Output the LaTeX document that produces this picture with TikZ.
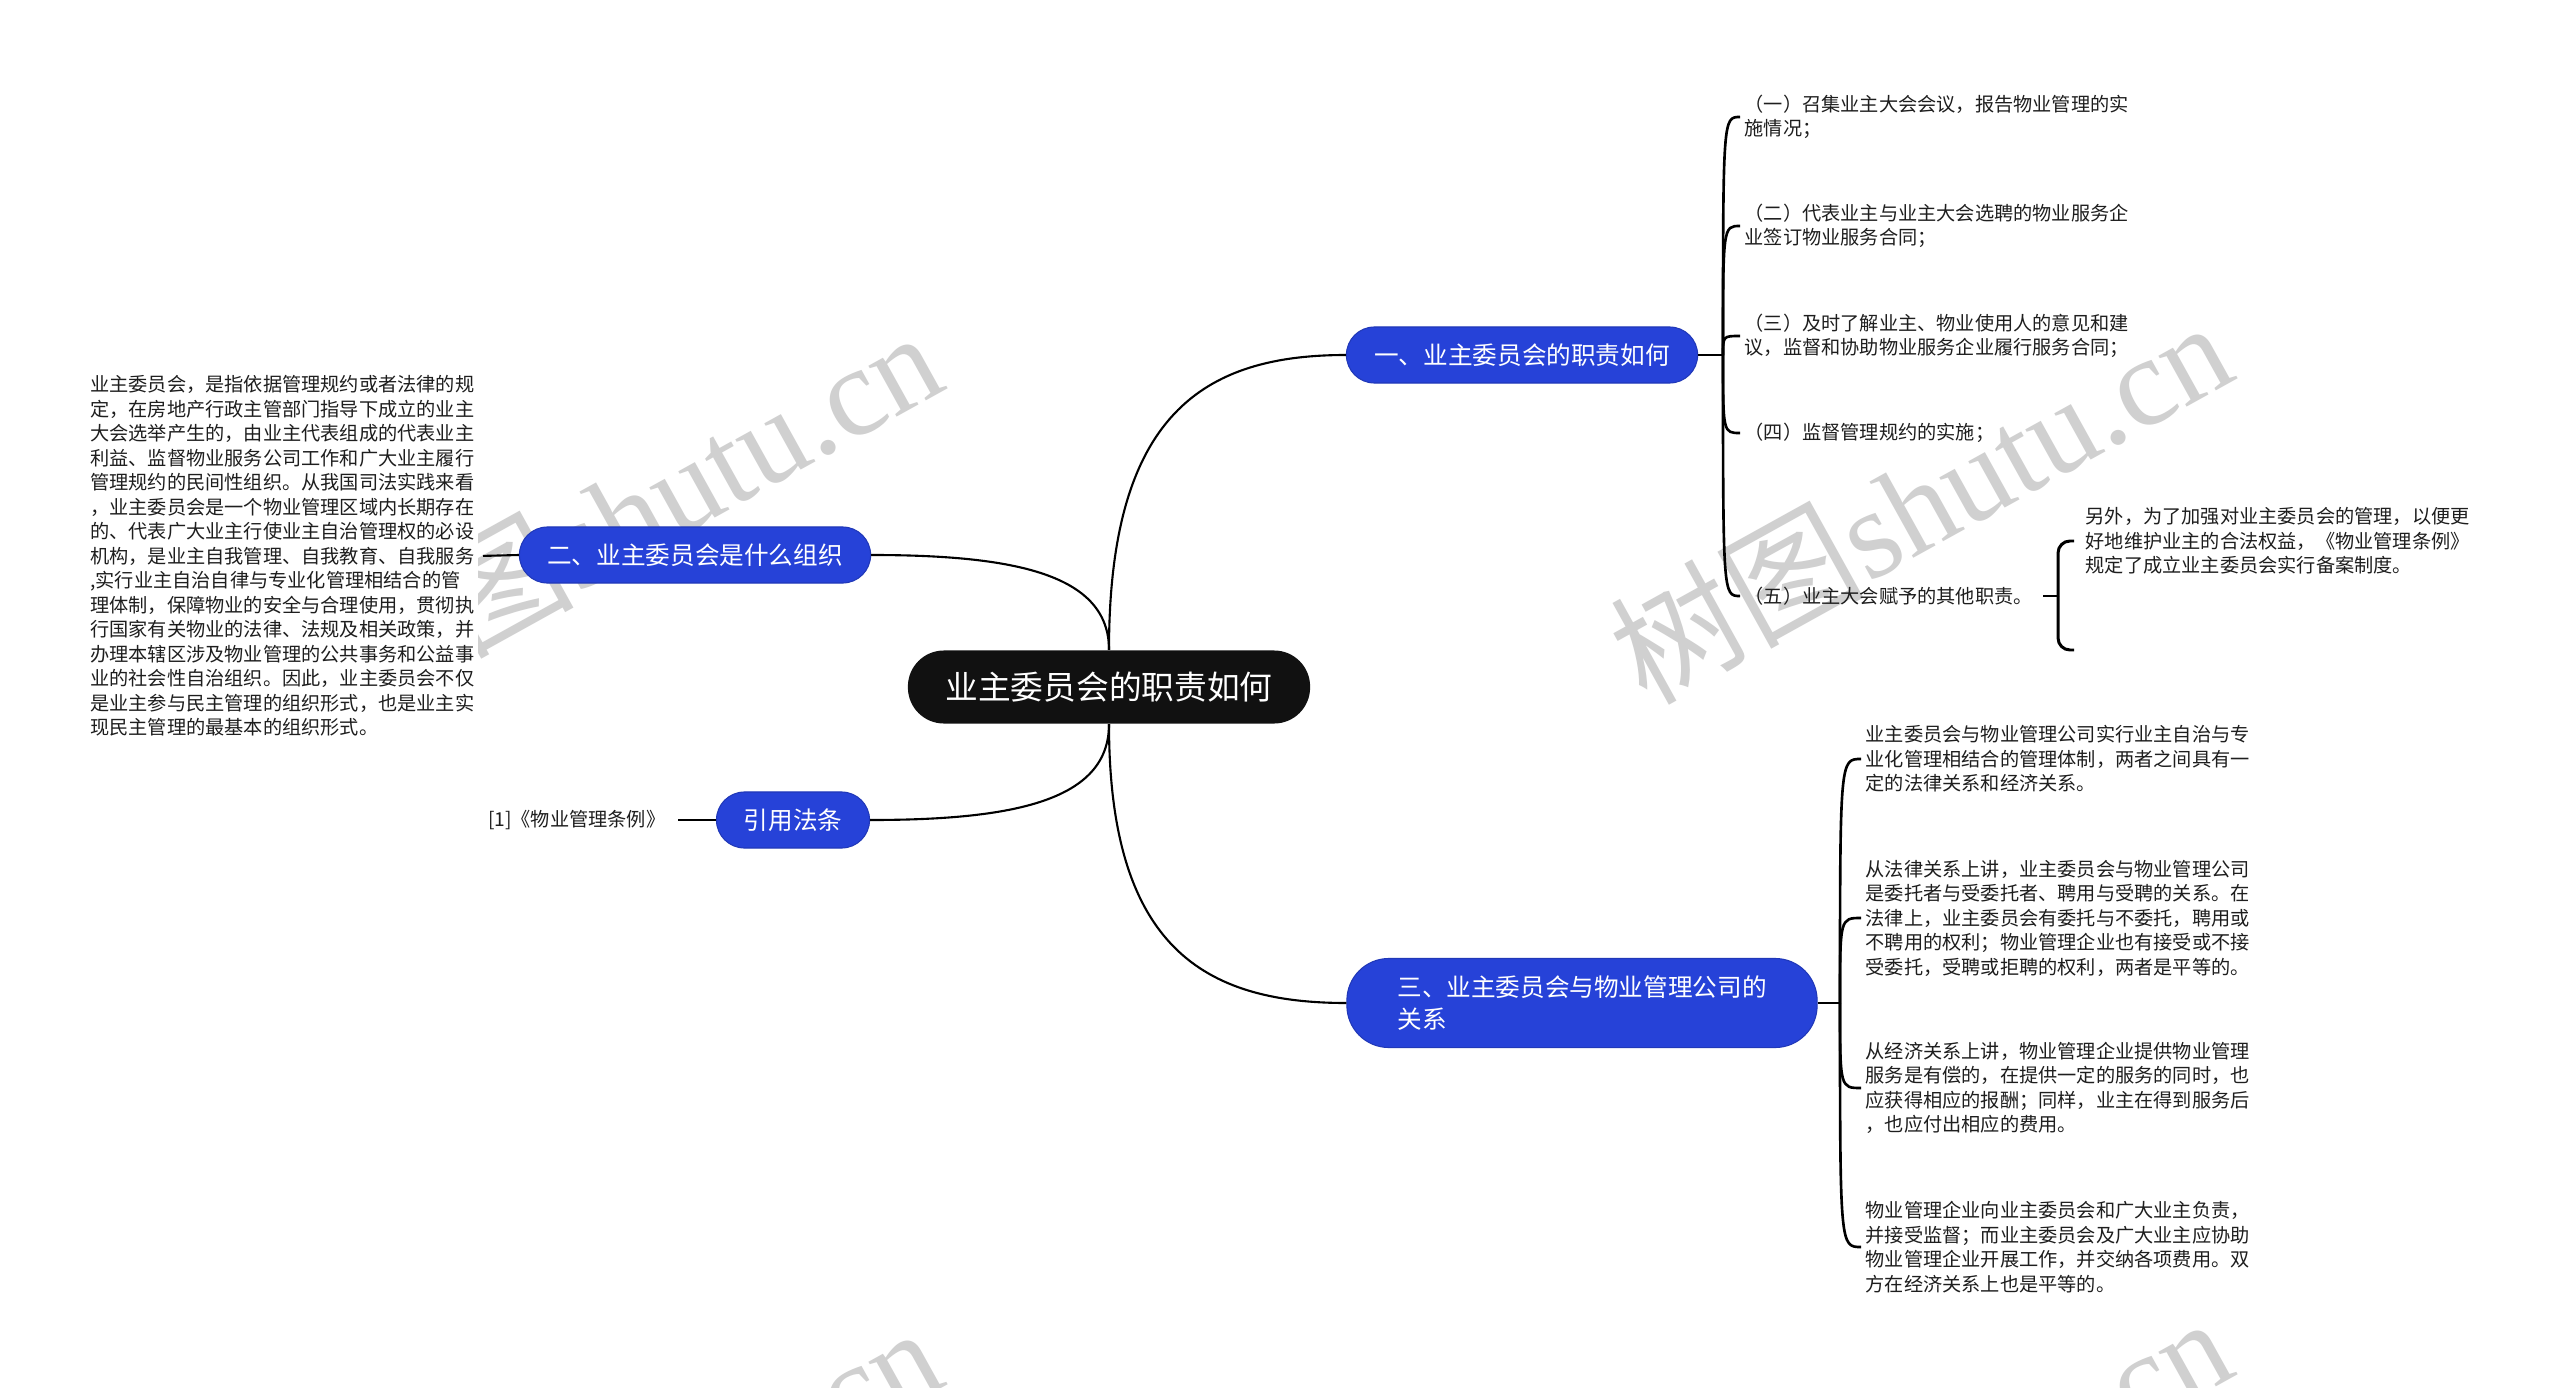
\documentclass[tikz,border=0pt]{standalone}
\usepackage{fontspec}
\setmainfont{Noto Sans CJK SC}
\newfontfamily\wmlat{Liberation Serif}
\usetikzlibrary{calc}
\definecolor{nodeblue}{RGB}{38,66,216}
\definecolor{rootblack}{RGB}{17,17,17}
\definecolor{wmgray}{RGB}{208,208,208}
\definecolor{leaftext}{RGB}{30,30,30}
\begin{document}
\begin{tikzpicture}[x=0.01cm,y=-0.01cm,
  rootbox/.style={fill=rootblack, text=white, rounded corners=0.36cm, minimum width=4.02cm, minimum height=0.73cm, font=\fontsize{9.3}{11}\selectfont, inner sep=0},
  topicbox/.style={fill=nodeblue, draw=nodeblue!85!black, line width=0.3pt, text=white, rounded corners=0.28cm, minimum height=0.56cm, font=\fontsize{7}{9.3}\selectfont, inner sep=0},
  leaf/.style={anchor=west, align=left, inner xsep=0.04cm, inner ysep=0, text=leaftext, font=\fontsize{5.46}{6.97}\selectfont},
  link/.style={line width=0.6pt, draw=black},
  brace/.style={line width=0.75pt, draw=black},
  wm/.style={text=wmgray, rotate=29, font=\fontsize{36}{36}\selectfont, inner sep=0}
]
\useasboundingbox (0,0) rectangle (2560,1388);
\fill[white] (0,0) rectangle (2560,1388);

% watermarks
\begin{scope}
\clip (0,0) rectangle (2560,1388);
\node[wm] (wm1) at (1920,500) {树图\wmlat shutu.cn};
\node[wm] (wm2) at (630,510) {树图\wmlat shutu.cn};
\node[wm] (wm3) at (630,1506) {树图\wmlat shutu.cn};
\node[wm] (wm4) at (1920,1496) {树图\wmlat shutu.cn};
\end{scope}

% main nodes
\node[rootbox] (root) at (1109,687) {业主委员会的职责如何};
\node[topicbox, minimum width=3.51cm] (n1) at (1522,355) {一、业主委员会的职责如何};
\node[topicbox, minimum width=3.51cm] (n2) at (695,555) {二、业主委员会是什么组织};
\node[topicbox, minimum width=1.53cm] (n3) at (793,820) {引用法条};
\node[topicbox, minimum width=4.70cm, minimum height=0.89cm, rounded corners=0.42cm, align=left] (n4) at (1582,1003) {三、业主委员会与物业管理公司的\\关系};

% leaves of n1
\node[leaf] (c11) at (1740,117) {（一）召集业主大会会议，报告物业管理的实\\施情况；};
\node[leaf] (c12) at (1740,226) {（二）代表业主与业主大会选聘的物业服务企\\业签订物业服务合同；};
\node[leaf] (c13) at (1740,336) {（三）及时了解业主、物业使用人的意见和建\\议，监督和协助物业服务企业履行服务合同；};
\node[leaf] (c14) at (1740,433) {（四）监督管理规约的实施；};
\node[leaf] (c15) at (1740,596) {（五）业主大会赋予的其他职责。};
\node[leaf] (c151) at (2081,541) {另外，为了加强对业主委员会的管理，以便更\\好地维护业主的合法权益，《物业管理条例》\\规定了成立业主委员会实行备案制度。};

% leaf of n2
\node[leaf, anchor=east, fill=white, inner ysep=0.05cm] (c21) at (479,556) {业主委员会，是指依据管理规约或者法律的规\\
定，在房地产行政主管部门指导下成立的业主\\
大会选举产生的，由业主代表组成的代表业主\\
利益、监督物业服务公司工作和广大业主履行\\
管理规约的民间性组织。从我国司法实践来看\\
，业主委员会是一个物业管理区域内长期存在\\
的、代表广大业主行使业主自治管理权的必设\\
机构，是业主自我管理、自我教育、自我服务\\
,实行业主自治自律与专业化管理相结合的管\\
理体制，保障物业的安全与合理使用，贯彻执\\
行国家有关物业的法律、法规及相关政策，并\\
办理本辖区涉及物业管理的公共事务和公益事\\
业的社会性自治组织。因此，业主委员会不仅\\
是业主参与民主管理的组织形式，也是业主实\\
现民主管理的最基本的组织形式。};

% leaf of n3
\node[leaf, anchor=east] (c31) at (670,820) {[1]《物业管理条例》};

% leaves of n4
\node[leaf] (c41) at (1861,759) {业主委员会与物业管理公司实行业主自治与专\\业化管理相结合的管理体制，两者之间具有一\\定的法律关系和经济关系。};
\node[leaf] (c42) at (1861,918) {从法律关系上讲，业主委员会与物业管理公司\\是委托者与受委托者、聘用与受聘的关系。在\\法律上，业主委员会有委托与不委托，聘用或\\不聘用的权利；物业管理企业也有接受或不接\\受委托，受聘或拒聘的权利，两者是平等的。};
\node[leaf] (c43) at (1861,1088) {从经济关系上讲，物业管理企业提供物业管理\\服务是有偿的，在提供一定的服务的同时，也\\应获得相应的报酬；同样，业主在得到服务后\\，也应付出相应的费用。};
\node[leaf] (c44) at (1861,1247) {物业管理企业向业主委员会和广大业主负责，\\并接受监督；而业主委员会及广大业主应协助\\物业管理企业开展工作，并交纳各项费用。双\\方在经济关系上也是平等的。};

% root connectors
\draw[link] (root.north) .. controls ($(root.north)!0.8!(root.north |- n1.west)$) and ($(n1.west)!0.6!(n1.west -| root.north)$) .. (n1.west);
\draw[link] (root.north) .. controls ($(root.north)!0.8!(root.north |- n2.east)$) and ($(n2.east)!0.6!(n2.east -| root.north)$) .. (n2.east);
\draw[link] (root.south) .. controls ($(root.south)!0.8!(root.south |- n3.east)$) and ($(n3.east)!0.6!(n3.east -| root.south)$) .. (n3.east);
\draw[link] (root.south) .. controls ($(root.south)!0.8!(root.south |- n4.west)$) and ($(n4.west)!0.6!(n4.west -| root.south)$) .. (n4.west);

% n1 bracket
\coordinate (j1) at (1723,355);
\draw[brace] (n1.east) -- (j1);
\foreach \c in {c11,c12,c13,c14,c15}{
  \draw[brace] (j1) .. controls (j1 |- \c.west) and (j1 |- \c.west) .. (\c.west);
}

% c15 bracket
\coordinate (j15) at (2058,596);
\coordinate (b15) at (2074,650);
\draw[brace, line width=0.85pt, shorten <=0.06cm] (c15.east) -- (j15);
\draw[brace, line width=0.85pt, rounded corners=0.12cm, shorten >=0.07cm] (j15) |- (c151.west);
\draw[brace, line width=0.85pt, rounded corners=0.12cm] (j15) |- (b15);

% n2, n3 links
\draw[link, shorten >=0.04cm] (n2.west) -- (c21.east);
\draw[link, shorten >=0.08cm] (n3.west) -- (c31.east);

% n4 bracket
\coordinate (j4) at (1840,1003);
\draw[brace] (n4.east) -- (j4);
\foreach \c in {c41,c42,c43,c44}{
  \draw[brace] (j4) .. controls (j4 |- \c.west) and (j4 |- \c.west) .. (\c.west);
}
\end{tikzpicture}
\end{document}
